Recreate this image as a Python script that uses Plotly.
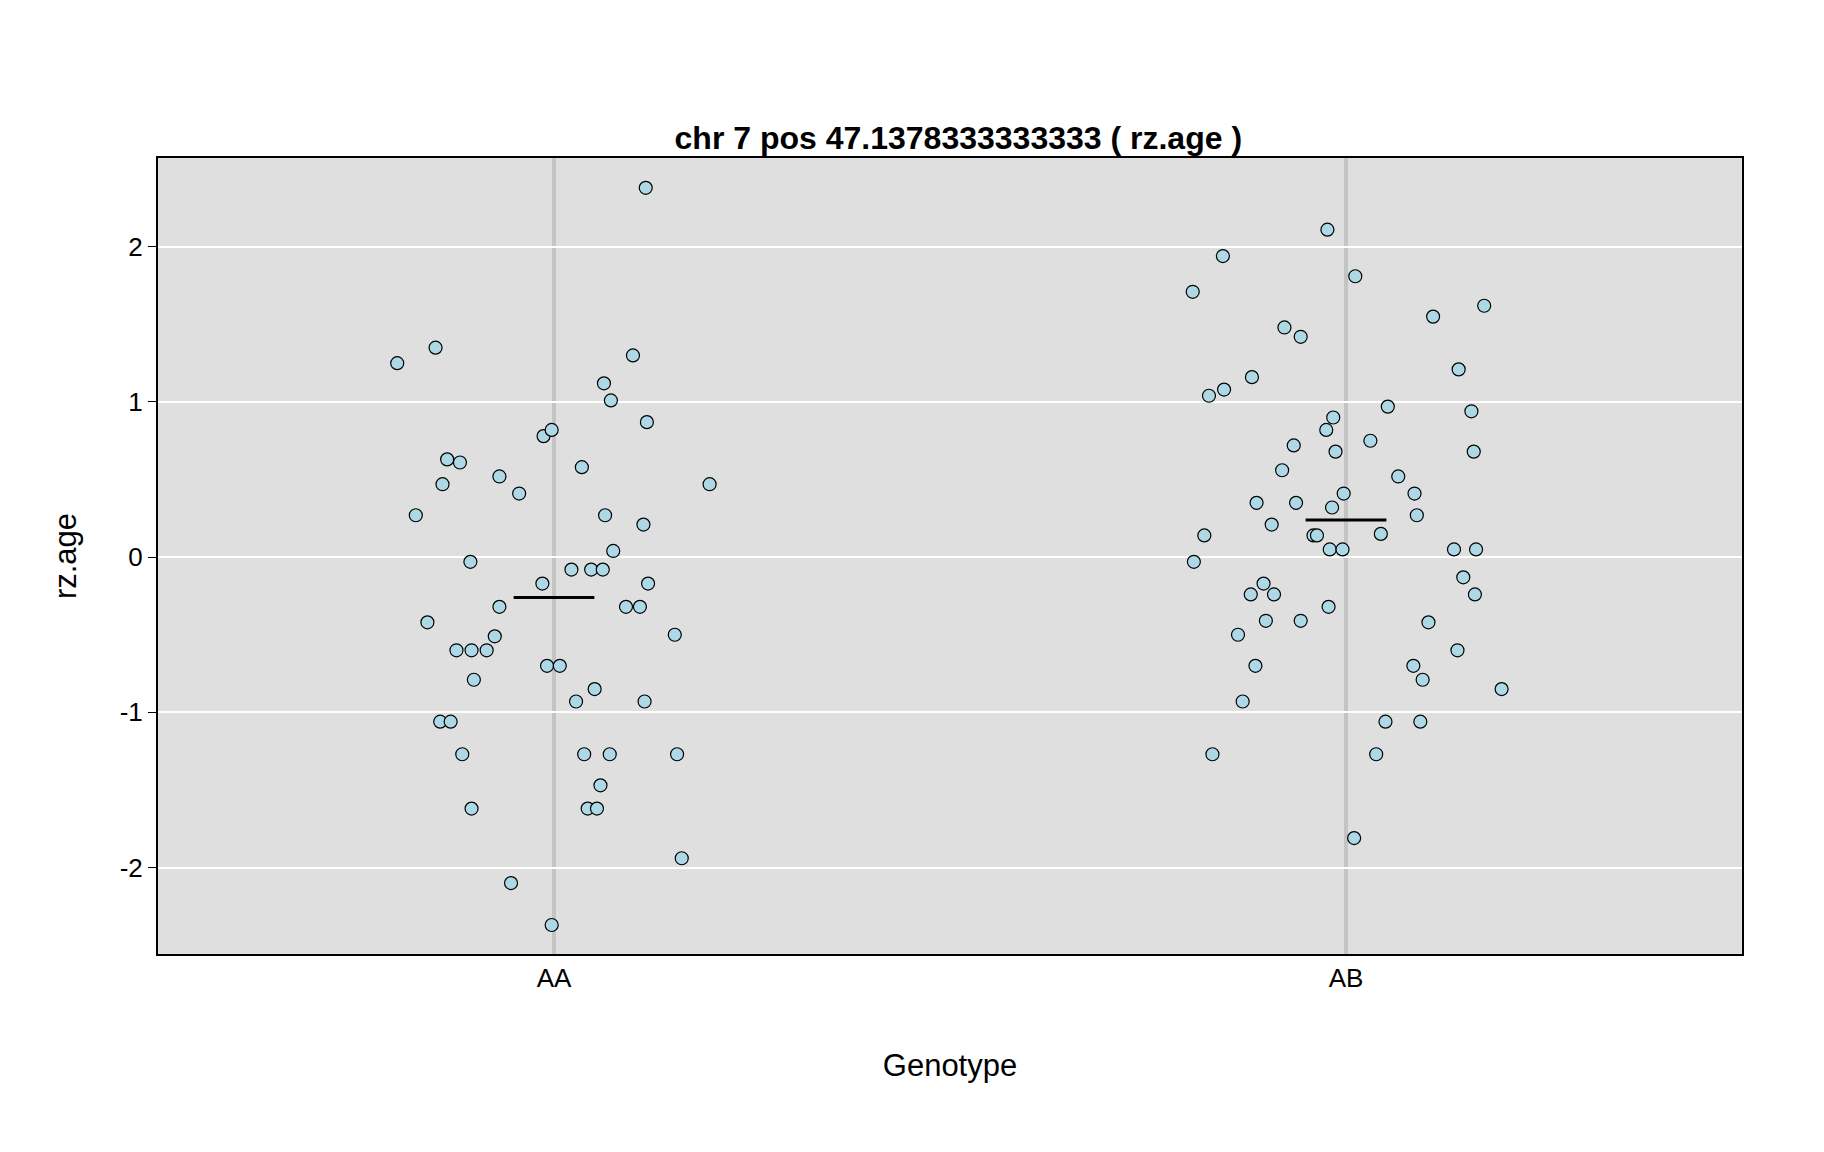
import plotly.graph_objects as go

genotypes = ["AA", "AB"]
# jittered horizontal position (pixel reading, converted to category units) and rz.age values
aa_px = [341,357,367,374,378,380,384,387,392,395,397,404,405,405,407,418,425,429,429,439,446,466,467,470,474,474,481,491,495,500,502,505,508,511,513,516,518,519,520,524,525,527,538,544,550,553,554,555,556,557,580,582,586,610]
aa_y = [1.25,0.27,-0.42,1.35,-1.06,0.47,0.63,-1.06,-0.6,0.61,-1.27,-0.03,-0.6,-1.62,-0.79,-0.6,-0.51,0.52,-0.32,-2.1,0.41,-0.17,0.78,-0.7,0.82,-2.37,-0.7,-0.08,-0.93,0.58,-1.27,-1.62,-0.08,-0.85,-1.62,-1.47,-0.08,1.12,0.27,-1.27,1.01,0.04,-0.32,1.3,-0.32,0.21,-0.93,2.38,0.87,-0.17,-0.5,-1.27,-1.94,0.47]
ab_px = [1026,1027,1036,1040,1043,1052,1053,1065,1069,1076,1077,1080,1081,1087,1089,1094,1096,1103,1105,1113,1115,1119,1119,1130,1133,1141,1142,1143,1144,1146,1147,1149,1155,1156,1165,1166,1179,1184,1188,1192,1194,1203,1216,1217,1219,1222,1224,1229,1233,1251,1254,1255,1259,1266,1268,1269,1270,1277,1292]
ab_y = [1.71,-0.03,0.14,1.04,-1.27,1.94,1.08,-0.5,-0.93,-0.24,1.16,-0.7,0.35,-0.17,-0.41,0.21,-0.24,0.56,1.48,0.72,0.35,1.42,-0.41,0.14,0.14,0.82,2.11,-0.32,0.05,0.32,0.9,0.68,0.05,0.41,-1.81,1.81,0.75,-1.27,0.15,-1.06,0.97,0.52,-0.7,0.41,0.27,-1.06,-0.79,-0.42,1.55,0.05,-0.6,1.21,-0.13,0.94,0.68,-0.24,0.05,1.62,-0.85]
group_means = [-0.26, 0.24]
yticks = [-2, -1, 0, 1, 2]

def to_x(p):
    return 1 + (p - 476) / 682.0

aa_x = [to_x(p) for p in aa_px]
ab_x = [to_x(p) for p in ab_px]

fig = go.Figure()
for i in range(2):
    fig.add_shape(type="line", x0=i+1, x1=i+1, y0=0, y1=1, yref="paper",
                  line=dict(color="#c4c4c4", width=4), layer="below")
marker = dict(size=13, color="lightblue", line=dict(color="black", width=1.2))
fig.add_trace(go.Scatter(x=aa_x, y=aa_y, mode="markers", marker=marker))
fig.add_trace(go.Scatter(x=ab_x, y=ab_y, mode="markers", marker=marker))
for i, m in enumerate(group_means):
    fig.add_trace(go.Scatter(x=[i+1-0.051, i+1+0.051], y=[m, m], mode="lines",
                             line=dict(color="black", width=3)))

fig.update_layout(
    width=1824, height=1152, showlegend=False,
    paper_bgcolor="white", plot_bgcolor="#dfdfdf",
    margin=dict(l=150, r=90, t=150, b=206),
    font=dict(family="Liberation Sans, Arial", size=26, color="black"),
    title=dict(text="<b>chr 7 pos 47.1378333333333 ( rz.age )</b>", x=0.521, xanchor="center",
               y=1-130/1152, yanchor="middle", font=dict(size=32)),
    xaxis=dict(range=[0.5, 2.5], tickvals=[1, 2], ticktext=genotypes, showgrid=False,
               zeroline=False, showline=True, mirror=True, linecolor="black", linewidth=2,
               ticks="", title=dict(text="Genotype", standoff=62)),
    yaxis=dict(range=[-2.557, 2.572], tickvals=yticks, ticktext=[str(t) for t in yticks],
               showgrid=True, gridcolor="white", gridwidth=2, zeroline=False,
               showline=True, mirror=True, linecolor="black", linewidth=2,
               ticks="outside", ticklen=8, tickcolor="black",
               title=dict(text="rz.age", standoff=34)),
)
fig.write_html("out.html")
